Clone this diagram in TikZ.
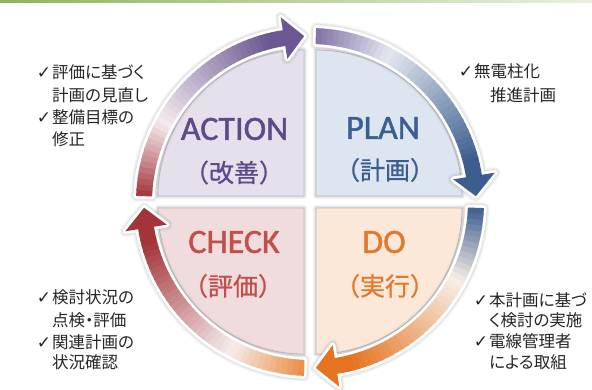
\documentclass[tikz,border=0pt]{standalone}
\usepackage{fontspec}
\newfontfamily\jp[RawFeature=+palt]{Noto Sans CJK JP}
\newfontfamily\jpn[FakeBold=0.8]{Noto Sans CJK JP}
\newfontfamily\lat[FakeBold=1.3]{Carlito}
\newfontfamily\chk{DejaVu Sans}
\definecolor{faceA}{HTML}{E5E0EC}
\definecolor{faceP}{HTML}{DCE5F0}
\definecolor{faceC}{HTML}{F0DCDC}
\definecolor{faceD}{HTML}{FCE8D8}
\definecolor{txtA}{HTML}{5E4A88}
\definecolor{txtP}{HTML}{3B5E91}
\definecolor{txtC}{HTML}{C0504D}
\definecolor{txtD}{HTML}{E6772A}
\definecolor{arRed}{HTML}{A3343A}
\definecolor{arPur}{HTML}{6B5792}
\definecolor{arPurL}{HTML}{8170A6}
\definecolor{arBlu}{HTML}{3C5D8E}
\definecolor{arOra}{HTML}{E5731F}
\definecolor{arOraL}{HTML}{EB8D40}
\definecolor{midA}{HTML}{F3EBEE}
\definecolor{midP}{HTML}{E2E7F0}
\definecolor{midD}{HTML}{F7EEE6}
\definecolor{midC}{HTML}{F5ECEB}
\definecolor{sidetxt}{HTML}{262626}
\definecolor{bandL}{HTML}{8DB65A}
\definecolor{bandR}{HTML}{E8F1DE}
% face: #1 apex x, #2 apex y, #3 start angle, #4 colour
\newcommand\pdcaface[4]{%
  \foreach \w/\o in {7/0.05,5/0.08,3/0.12}{%
    \draw[line width=\w pt, gray, opacity=\o, line join=round]
      (#1,#2) -- ++(#3:146) arc[start angle=#3, end angle=#3-90, radius=146pt] -- cycle;}
  \fill[#4, draw=gray!55, line width=0.7pt]
      (#1,#2) -- ++(#3:146) arc[start angle=#3, end angle=#3-90, radius=146pt] -- cycle;
}
% arrow: #1 tail, #2 head base, #3 tip, #4 tail colour, #5 middle colour, #6 head colour
\newcommand\pdcaarrow[6]{%
  \def\arrowoutline{(#1:158) -- (#1:174) arc[start angle=#1, end angle=#2, radius=174pt]
     -- (#2:187) -- (#3:166) -- (#2:145) -- (#2:158)
     arc[start angle=#2, end angle=#1, radius=158pt] -- cycle}%
  \foreach \w/\o in {12/0.05,10/0.07,8/0.1}{%
    \draw[gray, line width=\w pt, opacity=\o, line join=round] \arrowoutline;}
  \draw[white, line width=5.5pt, line join=round] \arrowoutline;
  \foreach \i in {0,...,39}{%
    \pgfmathsetmacro\angA{#1+(#2-#1)*\i/40}%
    \pgfmathsetmacro\angB{#1+(#2-#1)*(\i+1)/40-0.5}%
    \pgfmathsetmacro\frc{(\i+0.5)/40}%
    \pgfmathtruncatemacro\ph{\frc<0.33}%
    \ifnum\ph=1
      \pgfmathtruncatemacro\pc{100*(1-\frc/0.33)}%
      \colorlet{segc}{#4!\pc!#5}%
    \else
      \pgfmathtruncatemacro\pc{100*min(1,(\frc-0.33)/0.6)}%
      \colorlet{segc}{#6!\pc!#5}%
    \fi
    \fill[segc] (\angA:158) -- (\angA:174) -- (\angB:174) -- (\angB:158) -- cycle;
  }
  \fill[#6] (#2:187) -- (#3:166) -- (#2:145) -- cycle;
}
\newcommand\ck{\makebox[0pt][r]{{\chk\fontsize{17}{19}\selectfont ✓}\hspace{1pt}}}
\tikzset{
  sidetext/.style={anchor=west, inner sep=0pt, text=sidetxt,
    font=\jp\fontsize{16.5}{20}\selectfont},
  enlabel/.style={font=\lat\fontsize{34}{40}\selectfont},
  jplabel/.style={font=\jpn\fontsize{25}{30}\selectfont},
}
\begin{document}
\begin{tikzpicture}[x=1pt,y=1pt]
\useasboundingbox (0,0) rectangle (592,390);
\fill[white] (0,0) rectangle (592,390);
\shade[left color=bandL, right color=bandR] (0,387.5) rectangle (592,390);
% quadrant faces
\pdcaface{304}{194}{180}{faceA}
\pdcaface{316}{194}{90}{faceP}
\pdcaface{316}{182}{0}{faceD}
\pdcaface{304}{182}{-90}{faceC}
% arrows
\begin{scope}[shift={(310,188)}]
  \pdcaarrow{178}{99}{92}{arRed}{midA}{arPur}
  \pdcaarrow{88}{9}{2}{arPurL}{midP}{arBlu}
  \pdcaarrow{-2}{-81}{-88}{arBlu}{midD}{arOra}
  \pdcaarrow{-92}{-171}{-178}{arOraL}{midC}{arRed}
\end{scope}
% labels
\node[enlabel, text=txtA] (act)  at (234.5,261) {ACTION};
\node[jplabel, text=txtA] (actj) at (234,217.5) {（改善）};
\node[enlabel, text=txtP] (plan) at (383,262) {PLAN};
\node[jplabel, text=txtP] (planj) at (385,220) {（計画）};
\node[enlabel, text=txtC] (chk)  at (234,148) {CHECK};
\node[jplabel, text=txtC] (chkj) at (233,104) {（評価）};
\node[enlabel, text=txtD] (do)   at (384,148) {DO};
\node[jplabel, text=txtD] (doj)  at (385,104) {（実行）};
% side texts
\node[sidetext] (tl1) at (52,317.5) {\ck 評価に基づく};
\node[sidetext] (tl2) at (52,294.5) {計画の見直し};
\node[sidetext] (tl3) at (52,272.5) {\ck 整備目標の};
\node[sidetext] (tl4) at (52,250.5) {修正};
\node[sidetext] (tr1) at (474,318.5) {\ck 無電柱化};
\node[sidetext] (tr2) at (490,295) {推進計画};
\node[sidetext] (bl1) at (52,92.5) {\ck 検討状況の};
\node[sidetext] (bl2) at (52,70) {点検・評価};
\node[sidetext] (bl3) at (52,47.5) {\ck 関連計画の};
\node[sidetext] (bl4) at (52,27.5) {状況確認};
\node[sidetext] (br1) at (489,90) {\ck 本計画に基づ};
\node[sidetext] (br2) at (489,69.5) {く検討の実施};
\node[sidetext] (br3) at (489,48.5) {\ck 電線管理者};
\node[sidetext] (br4) at (489,27.5) {による取組};
\end{tikzpicture}
\end{document}
